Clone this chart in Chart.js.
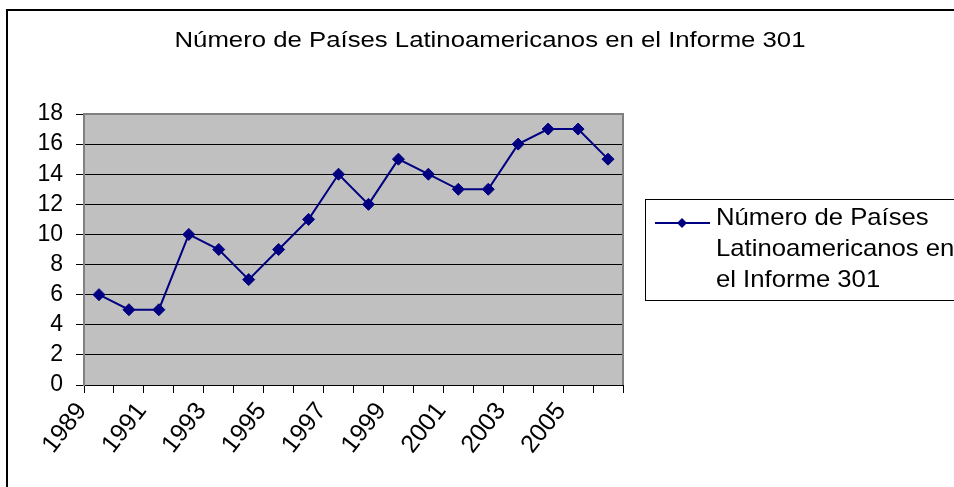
<!DOCTYPE html>
<html lang="es">
<head>
<meta charset="utf-8">
<title>Número de Países Latinoamericanos en el Informe 301</title>
<script src="https://cdn.jsdelivr.net/npm/chart.js@4.4.1/dist/chart.umd.min.js"></script>
<style>
    html, body { margin: 0; padding: 0; background: #fff; overflow: hidden; }
    #wrap { position: relative; width: 954px; height: 487px; }
</style>
</head>
<body>
<div id="wrap"><canvas id="informeChart"></canvas></div>
<script>
// Daten
const anios = ['1989', '1990', '1991', '1992', '1993', '1994', '1995', '1996', '1997',
               '1998', '1999', '2000', '2001', '2002', '2003', '2004', '2005', '2006'];
const paises = [6, 5, 5, 10, 9, 7, 9, 11, 14, 12, 15, 14, 13, 13, 16, 17, 17, 15];
const yMin = 0;
const yMax = 18;
const yPaso = 2;
const titulo = 'Número de Países Latinoamericanos en el Informe 301';
const serieNombre = 'Número de Países Latinoamericanos en el Informe 301';
const leyendaLineas = ['Número de Países', 'Latinoamericanos en', 'el Informe 301'];

const FONT = '"Liberation Sans", Arial, sans-serif';
const AZUL = '#000080';

// Rahmen, Plotfläche, Titel und Legende
const excelPlugin = {
    id: 'excelLook',
    beforeDraw(chart) {
        const ctx = chart.ctx;
        const a = chart.chartArea;
        ctx.save();
        ctx.fillStyle = '#fff';
        ctx.fillRect(0, 0, chart.width, chart.height);
        // äußerer Rahmen
        ctx.strokeStyle = '#000';
        ctx.lineWidth = 2;
        ctx.strokeRect(7, 10, chart.width + 20, chart.height + 20);
        // Plotfläche
        ctx.fillStyle = '#c0c0c0';
        ctx.fillRect(a.left, a.top, a.right - a.left, a.bottom - a.top);
        ctx.restore();
    },
    beforeDatasetsDraw(chart) {
        const ctx = chart.ctx;
        const a = chart.chartArea;
        ctx.save();
        ctx.strokeStyle = '#808080';
        ctx.lineWidth = 2;
        ctx.beginPath();
        ctx.moveTo(a.left, a.top);
        ctx.lineTo(a.right, a.top);
        ctx.lineTo(a.right, a.bottom);
        ctx.stroke();
        ctx.restore();
    },
    afterDraw(chart) {
        const ctx = chart.ctx;
        ctx.save();
        // Titel
        ctx.fillStyle = '#000';
        ctx.font = '22px ' + FONT;
        ctx.textAlign = 'center';
        ctx.textBaseline = 'alphabetic';
        ctx.translate(490, 47);
        ctx.scale(1.17, 1);
        ctx.fillText(titulo, 0, 0);
        ctx.restore();

        // Legende
        ctx.save();
        ctx.strokeStyle = '#000';
        ctx.lineWidth = 1;
        ctx.strokeRect(645.5, 199.5, 330, 101);
        ctx.strokeStyle = AZUL;
        ctx.lineWidth = 2;
        ctx.beginPath();
        ctx.moveTo(655, 223);
        ctx.lineTo(710, 223);
        ctx.stroke();
        ctx.fillStyle = AZUL;
        ctx.beginPath();
        ctx.moveTo(682, 218);
        ctx.lineTo(687, 223);
        ctx.lineTo(682, 228);
        ctx.lineTo(677, 223);
        ctx.closePath();
        ctx.fill();
        ctx.fillStyle = '#000';
        ctx.font = '24px ' + FONT;
        ctx.textAlign = 'left';
        leyendaLineas.forEach((linea, i) => {
            ctx.save();
            ctx.translate(716, 225 + i * 31);
            ctx.scale(1.07, 1);
            ctx.fillText(linea, 0, 0);
            ctx.restore();
        });
        ctx.restore();
    }
};

const config = {
    type: 'line',
    data: {
        labels: anios,
        datasets: [{
            label: serieNombre,
            data: paises,
            borderColor: AZUL,
            backgroundColor: AZUL,
            borderWidth: 2,
            tension: 0,
            pointStyle: 'rectRot',
            pointRadius: 6,
            pointBorderWidth: 1,
            pointBackgroundColor: AZUL,
            pointBorderColor: AZUL
        }]
    },
    options: {
        responsive: true,
        maintainAspectRatio: false,
        animation: false,
        layout: {
            padding: { left: 0, right: 331, top: 114, bottom: 0 }
        },
        plugins: {
            legend: { display: false },
            title: { display: false },
            tooltip: { enabled: false }
        },
        scales: {
            x: {
                type: 'category',
                offset: true,
                grid: {
                    offset: true,
                    drawOnChartArea: false,
                    drawTicks: true,
                    tickLength: 8,
                    color: '#000',
                    lineWidth: 1
                },
                border: { display: true, color: '#000', width: 1 },
                ticks: {
                    autoSkip: false,
                    minRotation: 52,
                    maxRotation: 52,
                    labelOffset: -17,
                    padding: 4,
                    color: '#000',
                    font: { family: FONT, size: 25 },
                    callback: function(value, index) {
                        return index % 2 === 0 ? this.getLabelForValue(value) : '';
                    }
                },
                afterFit: function(axis) {
                    axis.height = 102;
                }
            },
            y: {
                min: yMin,
                max: yMax,
                grid: {
                    color: '#000',
                    lineWidth: 1,
                    tickLength: 8
                },
                border: { display: true, color: '#808080', width: 2 },
                ticks: {
                    autoSkip: false,
                    stepSize: yPaso,
                    padding: 13,
                    color: '#000',
                    font: { family: FONT, size: 23 }
                },
                afterFit: function(axis) {
                    axis.width = 84;
                }
            }
        }
    },
    plugins: [excelPlugin]
};

document.addEventListener('DOMContentLoaded', function() {
    const ctx = document.getElementById('informeChart').getContext('2d');
    new Chart(ctx, config);
});
</script>
</body>
</html>
